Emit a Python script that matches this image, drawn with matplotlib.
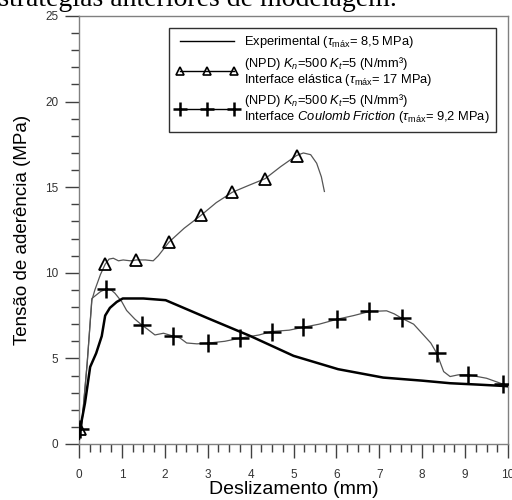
import numpy as np
import matplotlib
matplotlib.use("Agg")
from matplotlib import pyplot as plt
from matplotlib.lines import Line2D
from matplotlib.ticker import MultipleLocator

plt.rcParams['font.family'] = ['Liberation Sans', 'DejaVu Sans']
plt.rcParams['mathtext.fontset'] = 'custom'
plt.rcParams['mathtext.rm'] = 'Liberation Sans'
plt.rcParams['mathtext.it'] = 'Liberation Sans:italic'

# curva experimental
exp_x = [0.0, 0.02, 0.14, 0.26, 0.4, 0.53, 0.61, 0.72, 0.88, 1.02, 1.5, 2.02,
         3.0, 4.0, 5.0, 6.04, 7.09, 8.0, 8.65, 9.3, 9.9, 10.0]
exp_y = [0.3, 0.8, 2.4, 4.5, 5.3, 6.3, 7.5, 7.95, 8.3, 8.5, 8.5, 8.4,
         7.35, 6.3, 5.15, 4.37, 3.88, 3.7, 3.55, 3.47, 3.39, 3.37]

# interface elastica
ela_x = [0.0, 0.06, 0.19, 0.3, 0.37, 0.5, 0.61, 0.7, 0.8, 0.92, 1.03, 1.2, 1.34,
         1.55, 1.73, 1.85, 2.1, 2.45, 2.84, 3.2, 3.57, 3.95, 4.34, 4.7, 5.07,
         5.23, 5.4, 5.54, 5.65, 5.72]
ela_y = [0.8, 1.0, 4.7, 8.4, 9.0, 9.9, 10.5, 10.8, 10.85, 10.7, 10.75, 10.7, 10.75,
         10.75, 10.7, 11.0, 11.8, 12.6, 13.35, 14.1, 14.7, 15.1, 15.5, 16.2, 16.85,
         17.0, 16.9, 16.4, 15.6, 14.75]
ela_mx = [0.02, 0.61, 1.34, 2.1, 2.84, 3.57, 4.34, 5.07]
ela_my = [0.9, 10.5, 10.75, 11.8, 13.35, 14.7, 15.5, 16.85]

# interface coulomb friction
cou_x = [0.0, 0.06, 0.19, 0.3, 0.4, 0.5, 0.63, 0.75, 0.84, 1.0, 1.11, 1.3, 1.46,
         1.6, 1.77, 1.97, 2.2, 2.35, 2.51, 2.75, 3.0, 3.4, 3.75, 4.2, 4.49, 4.9,
         5.23, 5.6, 6.02, 6.4, 6.77, 7.17, 7.35, 7.52, 7.8, 8.03, 8.2, 8.34, 8.5,
         8.65, 8.84, 9.07, 9.5, 9.89]
cou_y = [0.85, 1.0, 4.7, 8.5, 8.7, 8.9, 9.05, 9.0, 8.8, 8.3, 7.8, 7.3, 6.96,
         6.7, 6.37, 6.47, 6.3, 6.2, 5.9, 5.85, 5.89, 6.0, 6.18, 6.37, 6.57, 6.65,
         6.82, 7.0, 7.29, 7.5, 7.74, 7.78, 7.6, 7.35, 7.0, 6.37, 5.9, 5.3, 4.23,
         3.94, 4.04, 4.04, 3.84, 3.49]
cou_mx = [0.02, 0.63, 1.46, 2.2, 3.0, 3.75, 4.49, 5.23, 6.02, 6.77, 7.52, 8.34, 9.07, 9.89]
cou_my = [0.85, 9.05, 6.96, 6.3, 5.89, 6.18, 6.57, 6.82, 7.29, 7.74, 7.35, 5.3, 4.04, 3.49]

lbl_exp = r"Experimental ($\tau_{\mathrm{máx}}$= 8,5 MPa)"
lbl_ela = ("(NPD) $K_n$=500 $K_t$=$\\mathit{5}$ (N/mm³)\n"
           r"Interface elástica ($\tau_{\mathrm{máx}}$= 17 MPa)")
lbl_cou = ("(NPD) $K_n$=500 $K_t$=$\\mathit{5}$ (N/mm³)\n"
           r"Interface $\mathit{Coulomb\ Friction}$ ($\tau_{\mathrm{máx}}$= 9,2 MPa)")

fig = plt.figure(figsize=(5.12, 5.0), dpi=100)
ax = fig.add_axes([79/512, 56/500, 429/512, 428/500])

ax.plot(exp_x, exp_y, color='black', lw=1.8, zorder=3)
ax.plot(ela_x, ela_y, color='#555555', lw=0.9, zorder=2)
ax.plot(ela_mx, ela_my, ls='none', marker='^', ms=8, mfc='none', mec='black', mew=1.3, zorder=4)
ax.plot(cou_x, cou_y, color='#555555', lw=0.9, zorder=2)
ax.plot(cou_mx, cou_my, ls='none', marker='+', ms=13, mec='black', mew=1.8, zorder=4)

ax.set_xlim(0, 10)
ax.set_ylim(0, 25)
ax.xaxis.set_major_locator(MultipleLocator(1))
ax.xaxis.set_minor_locator(MultipleLocator(0.25))
ax.yaxis.set_major_locator(MultipleLocator(5))
ax.yaxis.set_minor_locator(MultipleLocator(1))
ax.tick_params(which='major', direction='out', length=10, width=1, color='#404040',
               labelsize=8.5, labelcolor='#333333', pad=5)
ax.tick_params(axis='x', which='major', pad=8)
ax.tick_params(which='minor', direction='out', length=5.5, width=1, color='#404040')
for s in ax.spines.values():
    s.set_color('#808080')
    s.set_linewidth(1)

ax.set_xlabel('Deslizamento (mm)', fontsize=14, labelpad=0)
ax.set_ylabel('Tensão de aderência (MPa)', fontsize=13.5, labelpad=10)

handles = [
    Line2D([], [], color='black', lw=1),
    Line2D([], [], color='black', lw=1, marker='^', ms=6, mfc='none', mec='black', mew=1.2),
    Line2D([], [], color='black', lw=1, marker='+', ms=10, mec='black', mew=1.8),
]
leg = ax.legend(handles, [lbl_exp, lbl_ela, lbl_cou], loc='upper right',
                bbox_to_anchor=(0.988, 0.988), fontsize=9.3, numpoints=3,
                handlelength=4.8, handletextpad=0.5, fancybox=False,
                framealpha=1, edgecolor='#303030', borderpad=0.5, labelspacing=0.35)
leg.get_frame().set_linewidth(1)
for t in leg.get_texts():
    t.set_linespacing(1.0)

fig.text(-0.028, 1 - 6/500, 'estratégias anteriores de modelagem.',
         family='Liberation Serif', fontsize=20, va='baseline', ha='left')

fig.savefig('out.png', dpi=100)
